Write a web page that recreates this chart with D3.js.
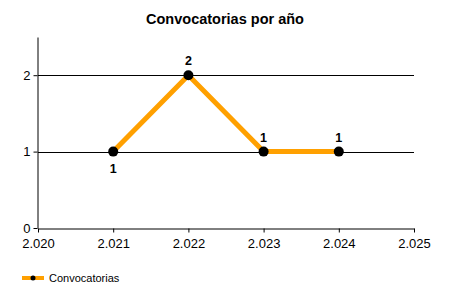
<!DOCTYPE html>
<html>
<head>
<meta charset="utf-8">
<script src="https://cdn.jsdelivr.net/npm/d3@7"></script>
<style>
  body { margin: 0; background: #fff; }
  text { font-family: "Liberation Sans", Arial, sans-serif; }
</style>
</head>
<body>
<svg width="450" height="300"></svg>
<script>
var years = [2021, 2022, 2023, 2024];
var counts = [1, 2, 1, 1];
var labelPos = ["below", "above", "above", "above"];
var xTicks = [2020, 2021, 2022, 2023, 2024, 2025];
var yTicks = [0, 1, 2];
var seriesName = "Convocatorias";

var svg = d3.select("svg");

var x = d3.scaleLinear().domain([2020, 2025]).range([38, 414]);
var y = d3.scaleLinear().domain([0, 2.5]).range([228, 37]);

var fmt = function(d) { return d3.format(",")(d).replace(",", "."); };

svg.append("text")
    .attr("x", 225).attr("y", 24)
    .attr("text-anchor", "middle")
    .style("font-size", "14.5px").style("font-weight", "bold")
    .text("Convocatorias por año");

// grid lines
svg.append("g").selectAll("line")
    .data(yTicks.filter(function(d) { return d > 0; }))
    .enter().append("line")
    .attr("x1", x(2020)).attr("x2", x(2025))
    .attr("y1", function(d) { return Math.round(y(d)) + 0.5; })
    .attr("y2", function(d) { return Math.round(y(d)) + 0.5; })
    .attr("stroke", "#000").attr("stroke-width", 1);

var xAxis = svg.append("g")
    .attr("transform", "translate(0," + 228.5 + ")")
    .call(d3.axisBottom(x).tickValues(xTicks).tickFormat(fmt).tickSize(4).tickSizeOuter(0));
xAxis.select(".domain").attr("stroke", "#000");
xAxis.selectAll("text").style("font-size", "13px").attr("fill", "#000").attr("dy", "0.95em");

var yAxis = svg.append("g")
    .attr("transform", "translate(" + 37.5 + ",0)")
    .call(d3.axisLeft(y).tickValues(yTicks).tickFormat(d3.format("d")).tickSize(4).tickSizeOuter(0));
yAxis.select(".domain").attr("stroke", "#000");
yAxis.selectAll("text").style("font-size", "13px").attr("fill", "#000").attr("x", -7);

var pts = years.map(function(d, i) { return { year: d, value: counts[i], pos: labelPos[i] }; });

var line = d3.line()
    .x(function(d) { return x(d.year); })
    .y(function(d) { return y(d.value); });

svg.append("path")
    .datum(pts)
    .attr("d", line)
    .attr("fill", "none")
    .attr("stroke", "#FFA000")
    .attr("stroke-width", 5)
    .attr("stroke-linejoin", "miter");

svg.append("g").selectAll("circle")
    .data(pts)
    .enter().append("circle")
    .attr("cx", function(d) { return x(d.year); })
    .attr("cy", function(d) { return y(d.value); })
    .attr("r", 5)
    .attr("fill", "#000");

svg.append("g").selectAll("text")
    .data(pts)
    .enter().append("text")
    .attr("x", function(d) { return x(d.year); })
    .attr("y", function(d) { return d.pos === "above" ? y(d.value) - 10 : y(d.value) + 21; })
    .attr("text-anchor", "middle")
    .style("font-size", "12.5px").style("font-weight", "bold")
    .text(function(d) { return d.value; });

// legend
var legend = svg.append("g").attr("transform", "translate(22,278)");
legend.append("line")
    .attr("x1", 0).attr("x2", 22).attr("y1", 0).attr("y2", 0)
    .attr("stroke", "#FFA000").attr("stroke-width", 4);
legend.append("circle").attr("cx", 11).attr("cy", 0).attr("r", 2.5).attr("fill", "#000");
legend.append("text")
    .attr("x", 27).attr("y", 4)
    .style("font-size", "11px")
    .text(seriesName);
</script>
</body>
</html>
